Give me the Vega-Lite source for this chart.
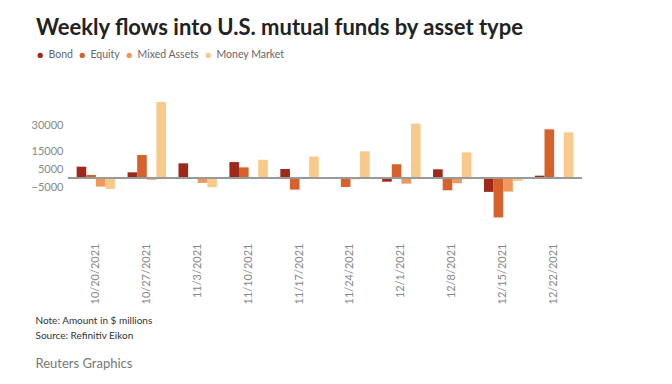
{
  "$schema": "https://vega.github.io/schema/vega-lite/v6.json",
  "autosize": {"type": "none"},
  "padding": {"left": 68, "top": 99, "right": 90, "bottom": 144},
  "width": 514,
  "height": 141,
  "background": "white",
  "config": {
    "font": "Lato",
    "view": {"stroke": null}
  },
  "title": {
    "text": "Weekly flows into U.S. mutual funds by asset type",
    "anchor": "start",
    "frame": "group",
    "dx": -32,
    "dy": -6,
    "fontSize": 22,
    "fontWeight": "bold",
    "color": "#222222",
    "font": "Lato"
  },
  "data": {
    "values": [
      {"date": "10/20/2021", "type": "Bond", "value": 6600},
      {"date": "10/20/2021", "type": "Equity", "value": 1900},
      {"date": "10/20/2021", "type": "Mixed Assets", "value": -4700},
      {"date": "10/20/2021", "type": "Money Market", "value": -6000},
      {"date": "10/27/2021", "type": "Bond", "value": 3400},
      {"date": "10/27/2021", "type": "Equity", "value": 13200},
      {"date": "10/27/2021", "type": "Mixed Assets", "value": -800},
      {"date": "10/27/2021", "type": "Money Market", "value": 43300},
      {"date": "11/3/2021", "type": "Bond", "value": 8500},
      {"date": "11/3/2021", "type": "Equity", "value": 400},
      {"date": "11/3/2021", "type": "Mixed Assets", "value": -2600},
      {"date": "11/3/2021", "type": "Money Market", "value": -5100},
      {"date": "11/10/2021", "type": "Bond", "value": 9200},
      {"date": "11/10/2021", "type": "Equity", "value": 6200},
      {"date": "11/10/2021", "type": "Mixed Assets", "value": 800},
      {"date": "11/10/2021", "type": "Money Market", "value": 10500},
      {"date": "11/17/2021", "type": "Bond", "value": 5300},
      {"date": "11/17/2021", "type": "Equity", "value": -6400},
      {"date": "11/17/2021", "type": "Mixed Assets", "value": 300},
      {"date": "11/17/2021", "type": "Money Market", "value": 12400},
      {"date": "11/24/2021", "type": "Bond", "value": 100},
      {"date": "11/24/2021", "type": "Equity", "value": -4900},
      {"date": "11/24/2021", "type": "Mixed Assets", "value": -500},
      {"date": "11/24/2021", "type": "Money Market", "value": 15300},
      {"date": "12/1/2021", "type": "Bond", "value": -1900},
      {"date": "12/1/2021", "type": "Equity", "value": 8000},
      {"date": "12/1/2021", "type": "Mixed Assets", "value": -3000},
      {"date": "12/1/2021", "type": "Money Market", "value": 31000},
      {"date": "12/8/2021", "type": "Bond", "value": 5100},
      {"date": "12/8/2021", "type": "Equity", "value": -6800},
      {"date": "12/8/2021", "type": "Mixed Assets", "value": -2800},
      {"date": "12/8/2021", "type": "Money Market", "value": 14700},
      {"date": "12/15/2021", "type": "Bond", "value": -7700},
      {"date": "12/15/2021", "type": "Equity", "value": -22200},
      {"date": "12/15/2021", "type": "Mixed Assets", "value": -7500},
      {"date": "12/15/2021", "type": "Money Market", "value": -1500},
      {"date": "12/22/2021", "type": "Bond", "value": 1500},
      {"date": "12/22/2021", "type": "Equity", "value": 27800},
      {"date": "12/22/2021", "type": "Mixed Assets", "value": 500},
      {"date": "12/22/2021", "type": "Money Market", "value": 26100}
    ]
  },
  "layer": [
    {
      "mark": {"type": "bar"},
      "encoding": {
        "x": {
          "field": "date",
          "type": "nominal",
          "sort": null,
          "scale": {"paddingInner": 0.245, "paddingOuter": 0.17},
          "axis": {
            "labelAngle": 270,
            "labelFontSize": 11,
            "labelColor": "#888888",
            "labelPadding": 3,
            "ticks": false,
            "domain": false,
            "title": ["Note: Amount in $ millions", "Source: Refinitiv Eikon"],
            "titleFontSize": 10,
            "titleFontWeight": "normal",
            "titleColor": "#333333",
            "titleAlign": "left",
            "titleBaseline": "alphabetic",
            "titleAnchor": "start",
            "titleX": -33,
            "titleY": 83.5,
            "titleLineHeight": 15
          }
        },
        "xOffset": {
          "field": "type",
          "type": "nominal",
          "sort": ["Bond", "Equity", "Mixed Assets", "Money Market"],
          "scale": {"paddingInner": 0, "paddingOuter": 0}
        },
        "y": {
          "field": "value",
          "type": "quantitative",
          "scale": {"domain": [-35000, 45000], "nice": false, "zero": true},
          "axis": {
            "values": [-5000, 5000, 15000, 30000],
            "format": "d",
            "grid": false,
            "domain": false,
            "ticks": false,
            "labelPadding": 5,
            "labelFontSize": 11,
            "labelColor": "#888888",
            "title": "Reuters Graphics",
            "titleAngle": 0,
            "titleAlign": "left",
            "titleBaseline": "alphabetic",
            "titleX": -33,
            "titleY": 268,
            "titleFontSize": 13,
            "titleFontWeight": "normal",
            "titleColor": "#777777"
          }
        },
        "color": {
          "field": "type",
          "type": "nominal",
          "sort": ["Bond", "Equity", "Mixed Assets", "Money Market"],
          "scale": {
            "domain": ["Bond", "Equity", "Mixed Assets", "Money Market"],
            "range": ["#9e2819", "#d6612c", "#f0985a", "#f7c98a"]
          },
          "legend": {
            "title": null,
            "orient": "none",
            "direction": "horizontal",
            "legendX": -33,
            "legendY": -49,
            "symbolType": "circle",
            "symbolSize": 28,
            "labelFontSize": 10.5,
            "labelColor": "#666666",
            "labelOffset": 3,
            "columnPadding": 4
          }
        }
      }
    },
    {
      "mark": {"type": "rule", "color": "#999999", "strokeWidth": 1.5},
      "encoding": {"y": {"datum": 0}}
    }
  ]
}
